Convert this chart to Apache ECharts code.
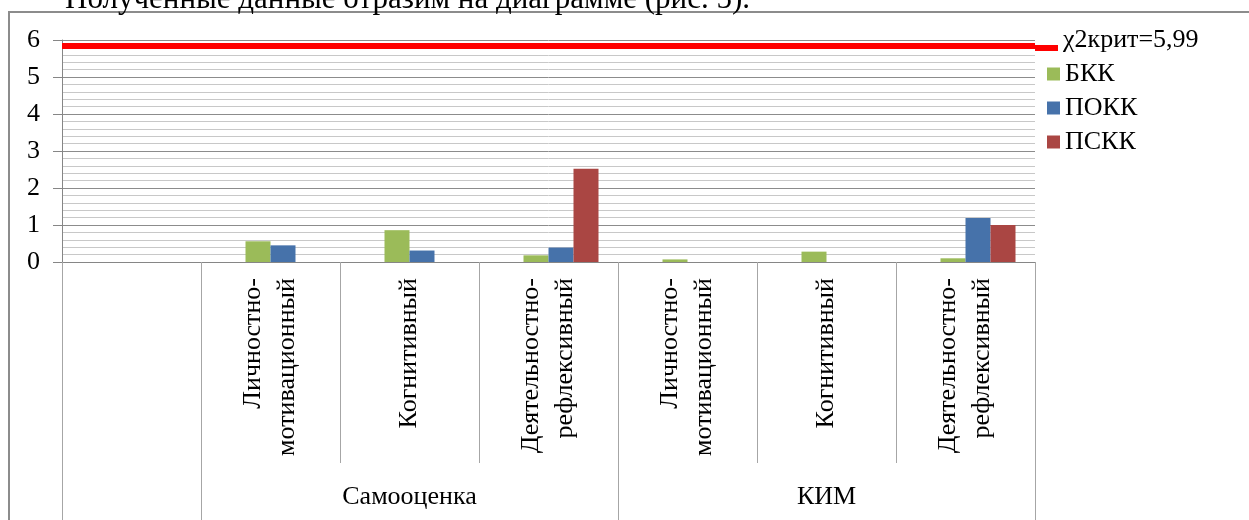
<!DOCTYPE html>
<html>
<head>
<meta charset="utf-8">
<title>χ2</title>
<script src="https://cdn.jsdelivr.net/npm/echarts@6/dist/echarts.min.js"></script>
<style>
  html, body { margin: 0; padding: 0; background: #fff; }
  #chart { width: 1249px; height: 520px; }
</style>
</head>
<body>
<div id="chart"></div>
<script>
"use strict";

// categories (first column is empty in the original)
var categories = [
  "",
  "Личностно-\nмотивационный",
  "Когнитивный",
  "Деятельностно-\nрефлексивный",
  "Личностно-\nмотивационный",
  "Когнитивный",
  "Деятельностно-\nрефлексивный"
];
var groupLabels = ["", "", "Самооценка", "", "", "КИМ", ""];
var groupStarts = [0, 1, 4];

var critName = "χ2крит=5,99";
var critLine = 5.85; // where the red line sits in the picture
var critSlot = [null, null, null, null, null, null, null];

var bkk = [null, 0.56, 0.86, 0.18, 0.07, 0.28, 0.1];
var pokk = [null, 0.45, 0.31, 0.39, 0, 0, 1.19];
var pskk = [null, 0, 0, 2.52, 0, 0, 1.0];

var seriesNames = ["БКК", "ПОКК", "ПСКК"];
var seriesColors = ["#9BBB59", "#4672AA", "#AA4643"];

var FONT = "'Liberation Serif', 'Times New Roman', 'DejaVu Serif', serif";
var FS = 26;

var chart = echarts.init(document.getElementById("chart"));

var barStyle = function (name, data, color) {
  return {
    name: name,
    type: "bar",
    data: data,
    barWidth: 25,
    barGap: "0%",
    itemStyle: { color: color },
    animation: false
  };
};

chart.setOption({
  animation: false,
  textStyle: { fontFamily: FONT },
  graphic: [
    {
      // the sentence above the chart, cut off by the screenshot
      type: "text",
      left: 65,
      top: -16,
      style: {
        text: "Полученные данные отразим на диаграмме (рис. 5).",
        font: "31px " + FONT,
        fill: "#000"
      }
    },
    {
      type: "rect",
      shape: { x: 9, y: 12, width: 1300, height: 600 },
      style: { fill: "none", stroke: "#8C8C8C", lineWidth: 2 },
      z: -1
    }
  ],
  grid: {
    left: 62,
    right: 214,
    top: 40,
    bottom: 258,
    outerBoundsMode: "none"
  },
  legend: [
    {
      // line icon sits low in its box so the text rides above it
      data: [{ name: critName, icon: "path://M0,0M0,16L23,16L23,22L0,22Z" }],
      left: 1035,
      top: 27,
      padding: 0,
      itemWidth: 23,
      itemHeight: 22,
      selectedMode: false,
      textStyle: {
        fontFamily: FONT,
        fontSize: FS,
        color: "#000"
      }
    },
    {
      data: seriesNames,
      orient: "vertical",
      left: 1047,
      top: 61,
      padding: 0,
      icon: "rect",
      itemWidth: 13,
      itemHeight: 13,
      itemGap: 8,
      selectedMode: false,
      textStyle: {
        fontFamily: FONT,
        fontSize: FS,
        lineHeight: 26,
        color: "#000"
      }
    }
  ],
  xAxis: [
    {
      type: "category",
      data: categories,
      position: "bottom",
      axisLine: { lineStyle: { color: "#868686", width: 1 } },
      axisTick: {
        show: true,
        interval: 0,
        length: 201,
        lineStyle: { color: "#A6A6A6" }
      },
      axisLabel: {
        interval: 0,
        rotate: 90,
        margin: 16,
        fontFamily: FONT,
        fontSize: FS,
        lineHeight: 34,
        color: "#000"
      },
      splitLine: { show: false }
    },
    {
      type: "category",
      data: groupLabels,
      position: "bottom",
      axisLine: { show: false },
      axisTick: {
        show: true,
        length: 262,
        interval: function (index) {
          return groupStarts.indexOf(index) >= 0;
        },
        lineStyle: { color: "#A6A6A6" }
      },
      axisLabel: {
        interval: 0,
        margin: 222,
        fontFamily: FONT,
        fontSize: FS,
        color: "#000"
      },
      splitLine: { show: false }
    }
  ],
  yAxis: {
    type: "value",
    min: 0,
    max: 6,
    interval: 1,
    axisLine: { show: true, lineStyle: { color: "#868686" } },
    axisTick: { show: true, length: 9, lineStyle: { color: "#868686" } },
    axisLabel: {
      margin: 22,
      fontFamily: FONT,
      fontSize: FS,
      color: "#000"
    },
    splitLine: { lineStyle: { color: "#8C8C8C", width: 1 } },
    minorTick: { show: false, splitNumber: 5 },
    minorSplitLine: { show: true, lineStyle: { color: "#C8C8C8", width: 1 } }
  },
  series: [
    {
      name: critName,
      type: "bar",
      data: critSlot,
      barWidth: 25,
      barGap: "0%",
      itemStyle: { color: "#FF0000" },
      markLine: {
        silent: true,
        symbol: ["none", "none"],
        label: { show: false },
        lineStyle: { color: "#FF0000", width: 6, type: "solid" },
        data: [{ yAxis: critLine }]
      }
    },
    barStyle(seriesNames[0], bkk, seriesColors[0]),
    barStyle(seriesNames[1], pokk, seriesColors[1]),
    barStyle(seriesNames[2], pskk, seriesColors[2])
  ]
});
</script>
</body>
</html>
